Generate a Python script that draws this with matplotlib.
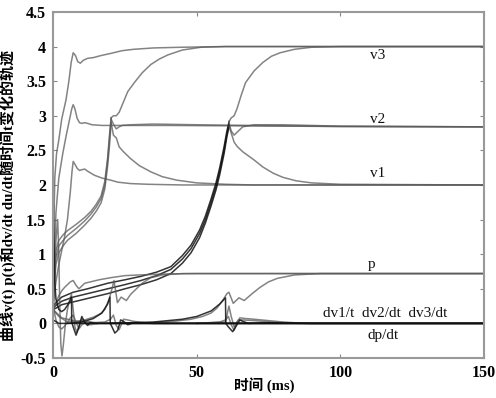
import matplotlib
matplotlib.use("Agg")
import matplotlib.pyplot as plt

# ---------------- data ----------------
# scenario A (fast transition around t≈7 ms)
t_v3a = [0, 0.3, 0.6, 1.2, 2, 3, 4.5, 5.5, 6.3, 7, 7.8, 8.6, 9.5, 10.5, 12, 14, 16.7, 20, 24, 28, 35, 45, 60, 150]
y_v3a = [0.3, 1.5, 2.1, 2.45, 2.65, 2.95, 3.23, 3.5, 3.77, 3.91, 3.87, 3.78, 3.76, 3.8, 3.83, 3.84, 3.87, 3.9, 3.94, 3.96, 3.98, 3.99, 4.0, 4.0]
t_v2a = [0, 0.5, 1, 2, 3.4, 4.5, 5.7, 6.5, 7, 7.6, 8.4, 9.2, 10, 11, 12, 13.5, 17, 22.6, 40, 60, 100, 150]
y_v2a = [0.3, 1.0, 1.6, 2.1, 2.46, 2.7, 2.94, 3.1, 3.16, 3.1, 2.96, 2.9, 2.89, 2.9, 2.89, 2.87, 2.86, 2.86, 2.86, 2.855, 2.845, 2.84]
t_v1a = [0, 1, 2, 3, 4, 5, 6, 6.6, 7, 7.6, 8.4, 9.2, 10, 11, 12, 14.4, 17, 20, 22.6, 27, 33, 45, 150]
y_v1a = [0.3, 0.6, 0.85, 1.05, 1.25, 1.5, 1.9, 2.2, 2.34, 2.3, 2.24, 2.21, 2.22, 2.23, 2.2, 2.14, 2.1, 2.07, 2.04, 2.02, 2.01, 2.0, 2.0]

# scenario B (transition around t≈20 ms)
t_rise_b = [0, 0.5, 1, 2, 3.5, 5, 8, 11, 13.2, 15, 16.7, 18, 19, 19.7, 20.2]
y_v3b_rise = [0.3, 0.8, 1.05, 1.2, 1.28, 1.34, 1.43, 1.53, 1.62, 1.72, 1.84, 2.05, 2.4, 2.75, 2.97]
y_v2b_rise = [0.28, 0.7, 0.95, 1.12, 1.2, 1.27, 1.37, 1.48, 1.58, 1.68, 1.8, 2.0, 2.35, 2.7, 2.95]
y_v1b_rise = [0.25, 0.6, 0.85, 1.02, 1.12, 1.2, 1.3, 1.42, 1.52, 1.62, 1.74, 1.94, 2.28, 2.6, 2.9]
t_v3b = [20.2, 21, 22, 23, 24, 26, 28.3, 31, 34, 37, 40, 45, 51.5, 60, 150]
y_v3b = [2.97, 3.0, 3.0, 3.05, 3.15, 3.35, 3.48, 3.62, 3.74, 3.82, 3.88, 3.95, 3.99, 4.0, 4.0]
t_v2b = [20.2, 21, 22, 23, 24, 27, 35, 50, 70, 100, 150]
y_v2b = [2.95, 2.88, 2.81, 2.84, 2.86, 2.87, 2.88, 2.87, 2.86, 2.845, 2.84]
t_v1b = [20.2, 21, 22, 23, 24.5, 27, 30, 34, 38, 43, 50, 60, 70, 150]
y_v1b = [2.9, 2.72, 2.68, 2.55, 2.48, 2.38, 2.28, 2.19, 2.12, 2.07, 2.03, 2.01, 2.0, 2.0]

# scenario C (transition around t≈61 ms)
t_rise_c = [0, 1, 3, 7, 12, 19, 25, 30.6, 36, 41, 45, 48, 51, 53, 55, 56.7, 58, 59.5, 60.5, 61.3]
y_v3c_rise = [0.25, 0.3, 0.38, 0.45, 0.5, 0.58, 0.63, 0.68, 0.74, 0.82, 0.98, 1.13, 1.35, 1.55, 1.8, 2.03, 2.25, 2.55, 2.78, 2.92]
y_v2c_rise = [0.22, 0.26, 0.32, 0.38, 0.43, 0.5, 0.56, 0.62, 0.69, 0.78, 0.93, 1.08, 1.3, 1.5, 1.75, 1.98, 2.2, 2.5, 2.74, 2.88]
y_v1c_rise = [0.2, 0.22, 0.27, 0.31, 0.36, 0.43, 0.5, 0.56, 0.63, 0.72, 0.87, 1.02, 1.24, 1.45, 1.7, 1.93, 2.15, 2.45, 2.7, 2.85]
t_v3c = [61.3, 62, 63, 64, 65.5, 67, 70, 73, 76, 79, 84, 90, 100, 150]
y_v3c = [2.92, 2.97, 3.0, 3.1, 3.3, 3.48, 3.65, 3.77, 3.86, 3.91, 3.96, 3.99, 4.0, 4.0]
t_v2c = [61.3, 62, 63, 64, 66, 70, 80, 100, 150]
y_v2c = [2.88, 2.78, 2.72, 2.76, 2.84, 2.87, 2.87, 2.85, 2.84]
t_v1c = [61.3, 62, 63, 64, 66, 70, 73, 76.6, 80, 84.6, 90, 100, 150]
y_v1c = [2.85, 2.75, 2.62, 2.56, 2.48, 2.36, 2.26, 2.17, 2.11, 2.06, 2.03, 2.01, 2.0]

# p curves
t_pa = [0, 1, 2, 3, 4, 5, 6, 7, 8, 9, 10, 11, 13, 16, 20, 25, 30, 40, 50, 150]
y_pa = [0.15, 0.3, 0.4, 0.47, 0.52, 0.56, 0.6, 0.62, 0.55, 0.5, 0.54, 0.58, 0.6, 0.63, 0.66, 0.69, 0.7, 0.715, 0.72, 0.72]
t_pb = [0, 2, 5, 8, 11, 14, 16.5, 18, 19.5, 20.5, 21.2, 22.4, 23.7, 25.5, 27, 29, 31, 34, 38, 45, 150]
y_pb = [0.2, 0.1, 0.02, 0.03, 0.05, 0.09, 0.14, 0.2, 0.35, 0.5, 0.62, 0.3, 0.38, 0.33, 0.42, 0.5, 0.58, 0.66, 0.7, 0.72, 0.72]
t_pc = [0, 3, 8, 15, 25, 35, 42, 48, 52, 55, 57, 59, 60.5, 61.2, 62.7, 64.7, 66.5, 69, 72, 75, 78, 84, 93, 150]
y_pc = [0.2, 0.08, 0.03, 0.01, 0.0, 0.01, 0.03, 0.06, 0.1, 0.15, 0.22, 0.33, 0.43, 0.45, 0.29, 0.37, 0.33, 0.42, 0.52, 0.6, 0.65, 0.7, 0.72, 0.72]

# derivative curves
t_da1 = [0, 0.3, 0.6, 1, 2, 3, 4, 5, 6, 6.4, 6.5, 7, 8, 9, 10, 11, 12, 13, 15, 150]
y_da1 = [1.9, 1.2, 0.6, 0.35, 0.2, 0.17, 0.2, 0.26, 0.33, 0.38, 0.02, -0.05, -0.17, -0.05, 0.1, 0.02, -0.03, 0.01, 0.0, 0.0]
t_da2 = [0, 0.5, 1, 1.6, 2, 2.3, 2.7, 3.1, 3.6, 4.3, 5, 5.8, 6.4, 7, 7.6, 8.3, 9, 10, 11, 13, 16, 150]
y_da2 = [0.0, 0.6, 1.2, 1.5, 1.0, 0.3, -0.3, -0.47, -0.3, 0.0, 0.2, 0.35, 0.42, 0.2, -0.05, -0.13, -0.05, 0.06, 0.0, -0.02, 0.0, 0.0]
t_da3 = [0, 1, 2, 3, 4, 5, 6, 7, 8, 9, 10, 12, 15, 150]
y_da3 = [0.25, 0.05, -0.05, -0.08, -0.04, 0.02, 0.08, 0.12, 0.02, -0.08, -0.02, 0.03, 0.0, 0.0]
t_db1 = [5, 10, 14, 17, 19, 19.8, 19.9, 20.5, 21.5, 22.5, 23.5, 24.5, 26, 28, 35, 150]
y_db1 = [0.0, 0.02, 0.07, 0.15, 0.28, 0.38, 0.0, -0.05, -0.14, -0.1, 0.05, 0.03, -0.02, 0.01, 0.0, 0.0]
t_db2 = [10, 18, 20, 21, 22, 23, 24.5, 26, 28, 32, 40]
y_db2 = [0.0, 0.02, 0.06, 0.12, -0.03, -0.09, 0.06, 0.05, 0.03, 0.01, 0.0]
t_dc1 = [20, 35, 45, 50, 55, 58, 60, 60.1, 61, 62.5, 64, 65, 66, 68, 75, 90, 150]
y_dc1 = [0.0, 0.02, 0.06, 0.1, 0.18, 0.28, 0.37, 0.0, -0.05, -0.12, -0.02, 0.05, 0.03, 0.0, 0.01, 0.0, 0.0]
t_dc2 = [50, 58, 60, 61, 62, 63, 64, 65, 67, 70, 75, 80, 88, 150]
y_dc2 = [0.0, 0.02, 0.05, 0.1, -0.02, -0.1, 0.02, 0.08, 0.07, 0.06, 0.04, 0.02, 0.0, 0.0]
t_dc3 = [50, 60, 61.2, 62, 63, 64.5, 66, 70, 76, 85, 150]
y_dc3 = [0.0, 0.02, 0.25, 0.1, -0.05, 0.05, 0.05, 0.04, 0.02, 0.0, 0.0]
t_dp = [0, 2, 150]
y_dp = [0.05, 0.0, 0.0]

labels = ["v3", "v2", "v1", "p", "dv1/t  dv2/dt  dv3/dt", "dp/dt"]
label_t = [113, 113, 113, 111, 115.5, 115]
label_y = [3.87, 2.95, 2.16, 0.85, 0.14, -0.17]

x_ticks = [0, 50, 100, 150]
y_ticks = [-0.5, 0, 0.5, 1, 1.5, 2, 2.5, 3, 3.5, 4, 4.5]
y_ticklabels = ["-0.5", "0", "0.5", "1", "1.5", "2", "2.5", "3", "3.5", "4", "4.5"]

# ---------------- drawing ----------------
plt.rcParams['font.family'] = ['Liberation Serif', 'Noto Sans CJK SC']
fig = plt.figure(figsize=(4.96, 3.98), dpi=100)
ax = fig.add_axes([0.107, 0.1005, 0.869, 0.8695])

gray = dict(color='#5a5a5a', lw=1.1, alpha=0.75)
dark = dict(color='#111111', lw=1.1, alpha=0.85)

for t, y in [(t_v3a, y_v3a), (t_v2a, y_v2a), (t_v1a, y_v1a)]:
    ax.plot(t, y, **gray)
for yr, (t, y) in zip([y_v3b_rise, y_v2b_rise, y_v1b_rise],
                      [(t_v3b, y_v3b), (t_v2b, y_v2b), (t_v1b, y_v1b)]):
    ax.plot(t_rise_b, yr, **gray)
    ax.plot(t, y, **gray)
for yr, (t, y) in zip([y_v3c_rise, y_v2c_rise, y_v1c_rise],
                      [(t_v3c, y_v3c), (t_v2c, y_v2c), (t_v1c, y_v1c)]):
    ax.plot(t_rise_c, yr, **dark)
    ax.plot(t, y, **gray)
for t, y in [(t_pa, y_pa), (t_pb, y_pb), (t_pc, y_pc)]:
    ax.plot(t, y, **gray)
for t, y in [(t_da2, y_da2), (t_da3, y_da3), (t_db2, y_db2), (t_dc2, y_dc2), (t_dc3, y_dc3)]:
    ax.plot(t, y, **gray)
for t, y in [(t_da1, y_da1), (t_db1, y_db1), (t_dc1, y_dc1), (t_dp, y_dp)]:
    ax.plot(t, y, **dark)

for s, tx, ty in zip(labels, label_t, label_y):
    ax.text(tx, ty, s, ha='center', va='center', fontsize=11, color='#111111')

ax.set_xlim(0, 150)
ax.set_ylim(-0.5, 4.5)
ax.set_xticks(x_ticks)
ax.set_xticklabels([str(v) for v in x_ticks], fontsize=11.5, fontweight='bold')
ax.set_yticks(y_ticks)
ax.set_yticklabels(y_ticklabels, fontsize=11.5, fontweight='bold')
ax.tick_params(direction='in', length=3, width=0.8, color='#888888',
               top=True, right=True, pad=5)
for sp in ax.spines.values():
    sp.set_color('#999999')
    sp.set_linewidth(1.5)

ax.set_xlabel("时间 (ms)", fontsize=10.5, fontweight='bold')
ax.xaxis.set_label_coords(0.49, -0.055)
ax.set_ylabel("曲线v(t) p(t)和dv/dt du/dt随时间t变化的轨迹", fontsize=10.8,
              fontweight='bold')
ax.yaxis.set_label_coords(-0.085, 0.47)

fig.savefig("out.png", dpi=100)
